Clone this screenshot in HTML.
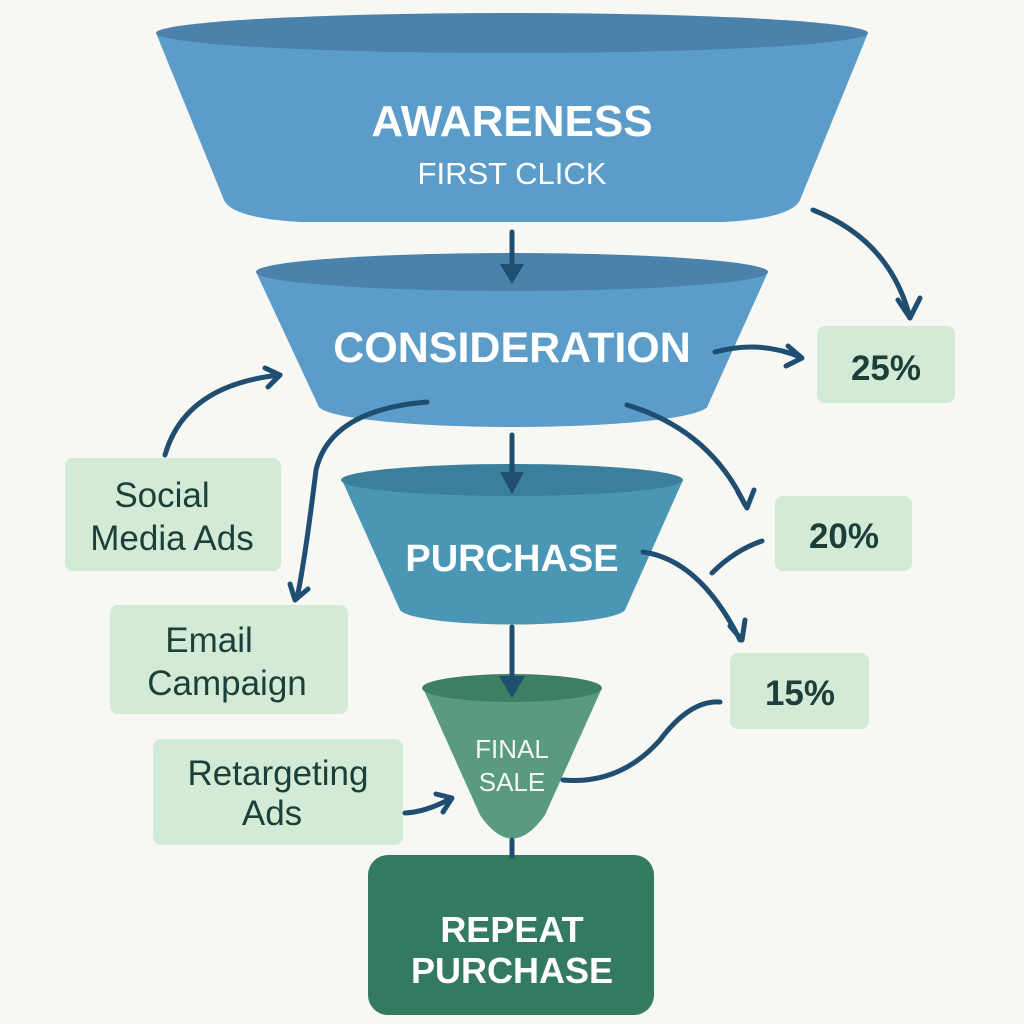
<!DOCTYPE html>
<html><head><meta charset="utf-8"><style>
html,body{margin:0;padding:0;background:#f7f7f4;}
svg{display:block;}
text{font-family:"Liberation Sans",sans-serif;}
</style></head><body>
<svg width="1024" height="1024" viewBox="0 0 1024 1024" xmlns="http://www.w3.org/2000/svg">
<rect width="1024" height="1024" fill="#f7f7f4"/>
<!-- Awareness -->
<path d="M156,33 L224,200 Q232,218 300,222 L724,222 Q792,218 800,200 L868,33 Z" fill="#5c9cc9"/>
<ellipse cx="512" cy="33" rx="356" ry="20" fill="#4a82ab"/>
<text x="512" y="136" text-anchor="middle" font-size="44" font-weight="bold" fill="#fff">AWARENESS</text>
<text x="512" y="184" text-anchor="middle" font-size="31" fill="#fff">FIRST CLICK</text>
<!-- Consideration -->
<path d="M256,272 L318,405 A195,22 0 0 0 708,405 L768,272 Z" fill="#5c9cc9"/>
<ellipse cx="512" cy="272" rx="256" ry="19" fill="#4a82ab"/>
<text x="512" y="362" text-anchor="middle" font-size="43" font-weight="bold" fill="#fff">CONSIDERATION</text>
<!-- Purchase -->
<path d="M342,480 L400,610 A113,16 0 0 0 625,610 L683,480 Z" fill="#4a97b5"/>
<ellipse cx="512" cy="480" rx="171" ry="16" fill="#3a7f9b"/>
<text x="512" y="571" text-anchor="middle" font-size="38" font-weight="bold" fill="#fff">PURCHASE</text>
<!-- Final sale -->
<path d="M423,688 L480,815 Q512,862 545,815 L602,688 Z" fill="#5a9a80"/>
<ellipse cx="512" cy="688" rx="90" ry="14" fill="#3d7f64"/>
<text x="512" y="758" text-anchor="middle" font-size="26" fill="#f2f7f3">FINAL</text>
<text x="512" y="791" text-anchor="middle" font-size="26" fill="#f2f7f3">SALE</text>
<!-- Repeat -->
<rect x="368" y="855" width="286" height="160" rx="20" fill="#337a60"/>
<text x="512" y="942" text-anchor="middle" font-size="36" font-weight="bold" fill="#fff">REPEAT</text>
<text x="512" y="983" text-anchor="middle" font-size="36" font-weight="bold" fill="#fff">PURCHASE</text>
<!-- boxes -->
<g fill="#d3ead6">
<rect x="817" y="326" width="138" height="77" rx="8"/>
<rect x="775" y="496" width="137" height="75" rx="8"/>
<rect x="730" y="653" width="139" height="76" rx="8"/>
<rect x="65" y="458" width="216" height="113" rx="8"/>
<rect x="110" y="605" width="238" height="109" rx="8"/>
<rect x="153" y="739" width="250" height="106" rx="8"/>
</g>
<g fill="#1c3f3a" font-size="35" text-anchor="middle" font-weight="bold">
<text x="886" y="380">25%</text>
<text x="844" y="548">20%</text>
<text x="800" y="705">15%</text>
</g>
<g fill="#1c3f3a" font-size="35" text-anchor="middle">
<text x="162" y="507">Social</text>
<text x="172" y="550">Media Ads</text>
<text x="209" y="652">Email</text>
<text x="227" y="695">Campaign</text>
<text x="278" y="785">Retargeting</text>
<text x="272" y="825">Ads</text>
</g>
<!-- connectors -->
<g stroke="#1f4e70" stroke-width="5" fill="none" stroke-linecap="round" stroke-linejoin="round">
<line x1="512" y1="232" x2="512" y2="270"/>
<line x1="512" y1="435" x2="512" y2="478"/>
<line x1="512" y1="627" x2="512" y2="686"/>
<line x1="512" y1="840" x2="512" y2="856"/>
<path d="M813,210 Q890,240 910,318"/>
<path d="M898,300 L910,318 L920,298"/>
<path d="M715,352 Q760,340 800,357"/>
<path d="M788,346 L802,358 L786,366"/>
<path d="M165,455 Q185,385 280,375"/>
<path d="M265,368 L280,375 L268,387"/>
<path d="M427,402 Q330,410 316,470 Q305,560 297,598"/>
<path d="M290,584 L295,600 L308,589"/>
<path d="M627,405 Q710,430 745,505"/>
<path d="M738,492 L747,508 L754,490"/>
<path d="M643,552 Q700,560 740,640"/>
<path d="M730,626 L742,640 L745,620"/>
<path d="M712,573 Q735,550 762,541"/>
<path d="M563,780 Q620,785 660,740 Q690,700 720,702"/>
<path d="M405,813 Q425,812 448,800"/>
<path d="M436,794 L452,798 L443,812"/>
</g>
<g fill="#1f4e70">
<polygon points="500,264 524,264 512,284"/>
<polygon points="500,472 524,472 512,494"/>
<polygon points="499,676 525,676 512,698"/>
</g>
</svg>
</body></html>
